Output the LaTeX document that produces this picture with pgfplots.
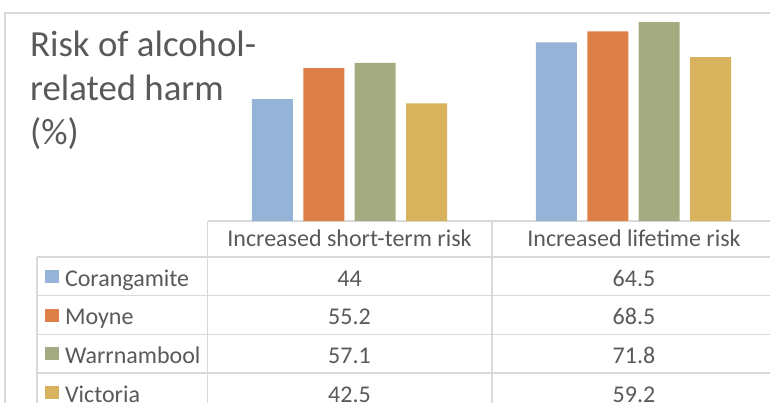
\documentclass[border=0pt]{standalone}
\usepackage{pgfplots}
\pgfplotsset{compat=1.18}
\usepackage{fontspec}
\setmainfont{Carlito}

\definecolor{cBlue}{HTML}{95B3D7}
\definecolor{cOrange}{HTML}{DD8047}
\definecolor{cGreen}{HTML}{A5AB81}
\definecolor{cGold}{HTML}{D8B25C}
\definecolor{txtgray}{HTML}{595959}
\definecolor{gridgray}{HTML}{D9D9D9}

\begin{document}
\begin{tikzpicture}[x=1pt,y=1pt]
  % chart frame and data table lines
  \draw[gridgray, line width=1.5pt] (5,-403) -- (5,-13) -- (770,-13);
  \draw[gridgray, line width=1.5pt] (207.5,-221) -- (770,-221);
  \draw[gridgray, line width=1.5pt] (207.5,-221) -- (207.5,-403);
  \draw[gridgray, line width=1.5pt] (492,-221) -- (492,-403);
  \draw[gridgray, line width=1.5pt] (37,-257) -- (37,-403);
  \foreach \yy in {257,295.67,334.33,373}
    \draw[gridgray, line width=1.5pt] (37,-\yy) -- (770,-\yy);

  % title
  \begin{scope}[every node/.style={anchor=base west, inner sep=0pt, text=txtgray,
      font=\fontsize{36.8}{44}\selectfont}]
    \node at (30,-57) {Risk of alcohol-};
    \node at (30,-101) {related harm};
    \node at (30,-145) {(\%)};
  \end{scope}

  \begin{axis}[
    at={(207.5pt,-221pt)}, anchor=south west,
    scale only axis, width=568pt, height=207.75pt,
    xmin=-0.5, xmax=1.5, ymin=0, ymax=75,
    hide axis,
    ybar=10.4pt, bar width=41pt,
    legend cell align=left,
    legend style={at={(-0.28609,-0.17329)}, anchor=north west,
      draw=none, fill=none, inner sep=0pt, outer sep=0pt, row sep=0pt,
      font=\fontsize{24}{28}\selectfont, text=txtgray,
      cells={anchor=base west},
      nodes={inner sep=0pt, text height=29pt, text depth=9.67pt},
      /tikz/every odd column/.append style={column sep=6pt}},
  ]
  \addplot[fill=cBlue, draw=none,
    legend image code/.code={\fill[cBlue] (0pt,3pt) rectangle (14pt,16pt);}]
    coordinates {(0,44) (1,64.5)};
  \addlegendentry{Corangamite}
  \addplot[fill=cOrange, draw=none,
    legend image code/.code={\fill[cOrange] (0pt,3pt) rectangle (14pt,16pt);}]
    coordinates {(0,55.2) (1,68.5)};
  \addlegendentry{Moyne}
  \addplot[fill=cGreen, draw=none,
    legend image code/.code={\fill[cGreen] (0pt,3pt) rectangle (14pt,16pt);}]
    coordinates {(0,57.1) (1,71.8)};
  \addlegendentry{Warrnambool}
  \addplot[fill=cGold, draw=none,
    legend image code/.code={\fill[cGold] (0pt,3pt) rectangle (14pt,16pt);}]
    coordinates {(0,42.5) (1,59.2)};
  \addlegendentry{Victoria}
  \end{axis}

  % data table text
  \begin{scope}[every node/.style={anchor=base, inner sep=0pt, text=txtgray,
      font=\fontsize{24}{28}\selectfont}]
    \node at (349.5,-247) {Increased short-term risk};
    \node at (634,-247) {Increased lifetime risk};
    \node at (349.5,-286) {44};
    \node at (634,-286) {64.5};
    \node at (349.5,-324.67) {55.2};
    \node at (634,-324.67) {68.5};
    \node at (349.5,-363.33) {57.1};
    \node at (634,-363.33) {71.8};
    \node at (349.5,-402) {42.5};
    \node at (634,-402) {59.2};
  \end{scope}

  \pgfresetboundingbox
  \useasboundingbox (0,-403) rectangle (770,0);
\end{tikzpicture}
\end{document}
